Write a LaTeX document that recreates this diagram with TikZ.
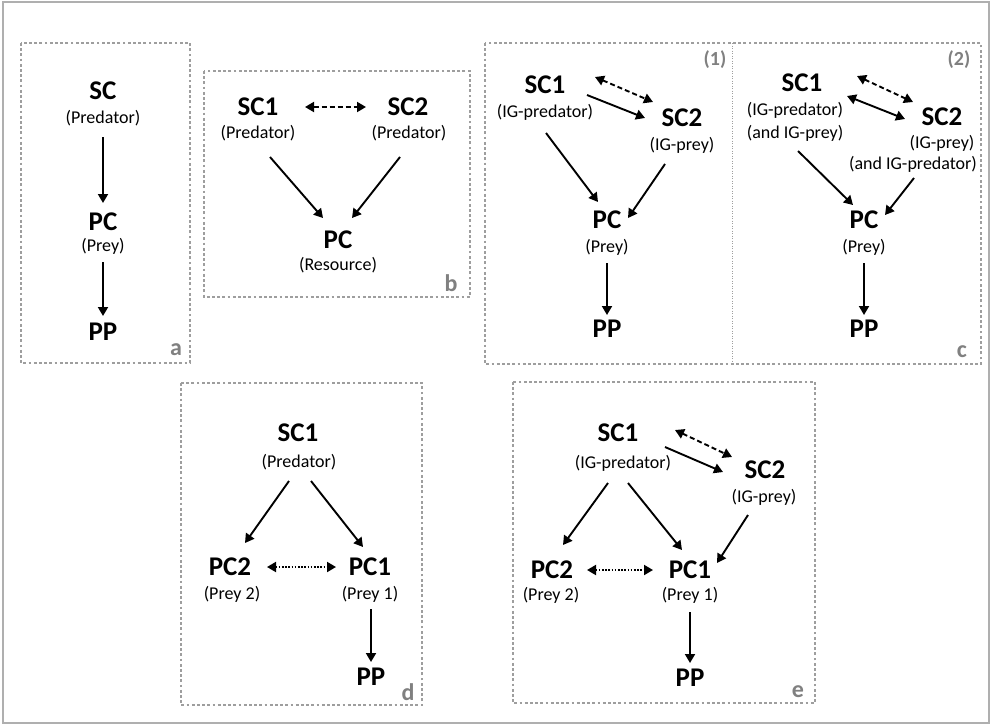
\documentclass[tikz,border=0pt]{standalone}
\usepackage{fontspec}
\setmainfont{Carlito}
\usetikzlibrary{arrows.meta}
\definecolor{boxgray}{RGB}{158,158,158}
\definecolor{taggray}{RGB}{128,128,128}
\definecolor{outergray}{RGB}{175,175,175}
\begin{document}
\begin{tikzpicture}[x=1pt,y=-1pt,
  big/.style={font=\fontsize{27}{29}\selectfont\bfseries, inner sep=0pt},
  sub/.style={font=\fontsize{18}{20}\selectfont, inner sep=0pt},
  tag/.style={font=\fontsize{24}{25}\selectfont\bfseries, text=taggray, inner sep=0pt},
  numtag/.style={font=\fontsize{20}{22}\selectfont\bfseries, text=taggray, inner sep=0pt},
  panel/.style={draw=boxgray, line width=2.8pt, dash pattern=on 2.8pt off 2.4pt},
  arr/.style={line width=1.9pt, -{Triangle[length=9pt,width=10pt]}},
  dbl/.style={line width=1.9pt, {Triangle[length=9pt,width=10pt]}-{Triangle[length=9pt,width=10pt]}},
  dashdbl/.style={dbl, dash pattern=on 5pt off 3pt},
  dotdbl/.style={dbl, dash pattern=on 1.6pt off 1.6pt}]
\useasboundingbox (0,0) rectangle (992,726);
\draw[outergray, line width=2.6pt] (3,2) rectangle (989,723);

% panels
\draw[panel] (21,43) rectangle (190,363);
\draw[panel] (204,71) rectangle (470,297);
\draw[panel] (485,43) rectangle (981,364);
\draw[boxgray, line width=1pt, dash pattern=on 1pt off 1.5pt] (732,43) -- (732,364);
\draw[panel] (181,383) rectangle (422,705);
\draw[panel] (513,382) rectangle (815,703);

% ---- a ----
\node[big] (a_sc) at (103,91) {SC};
\node[sub] (a_scs) at (103,118) {(Predator)};
\node[big] (a_pc) at (103,222) {PC};
\node[sub] (a_pcs) at (103,246) {(Prey)};
\node[big] (a_pp) at (103,332) {PP};
\node[tag] (a_tag) at (176,350) {a};
\draw[arr] ([shift={(0,19)}]a_scs.center) -- ([shift={(0,-19)}]a_pc.center);
\draw[arr] ([shift={(0,16)}]a_pcs.center) -- ([shift={(0,-16)}]a_pp.center);

% ---- b ----
\node[big] (b_s1) at (258,107) {SC1};
\node[sub] (b_s1s) at (258,133) {(Predator)};
\node[big] (b_s2) at (408,107) {SC2};
\node[sub] (b_s2s) at (409,133) {(Predator)};
\node[big] (b_pc) at (338,240) {PC};
\node[sub] (b_pcs) at (338,265) {(Resource)};
\node[tag] (b_tag) at (451,283) {b};
\draw[dashdbl] ([shift={(47,0)}]b_s1.center) -- ([shift={(-42,0)}]b_s2.center);
\draw[arr] ([shift={(12,24)}]b_s1s.center) -- ([shift={(-15,-22)}]b_pc.center);
\draw[arr] ([shift={(-9,24)}]b_s2s.center) -- ([shift={(14,-22)}]b_pc.center);

% ---- c (1) ----
\node[numtag] (c1_tag) at (715,60) {(1)};
\node[big] (c1_s1) at (545,85) {SC1};
\node[sub] (c1_s1s) at (545,112) {(IG-predator)};
\node[big] (c1_s2) at (682,118) {SC2};
\node[sub] (c1_s2s) at (682,145) {(IG-prey)};
\node[big] (c1_pc) at (607,220) {PC};
\node[sub] (c1_pcs) at (607,247) {(Prey)};
\node[big] (c1_pp) at (607,329) {PP};
\draw[dashdbl] ([shift={(50,-8)}]c1_s1.center) -- ([shift={(-29,-16)}]c1_s2.center);
\draw[arr] ([shift={(42,10)}]c1_s1.center) -- ([shift={(-37,0)}]c1_s2.center);
\draw[arr] ([shift={(1,21)}]c1_s1s.center) -- ([shift={(-9,-18)}]c1_pc.center);
\draw[arr] ([shift={(-17,19)}]c1_s2s.center) -- ([shift={(21,-2)}]c1_pc.center);
\draw[arr] ([shift={(0,16)}]c1_pcs.center) -- ([shift={(0,-14)}]c1_pp.center);

% ---- c (2) ----
\node[numtag] (c2_tag) at (959,60) {(2)};
\node[big] (c2_s1) at (802,83) {SC1};
\node[sub] (c2_s1s) at (795,110) {(IG-predator)};
\node[sub] (c2_s1t) at (795,133) {(and IG-prey)};
\node[big] (c2_s2) at (942,117) {SC2};
\node[sub] (c2_s2s) at (942,143) {(IG-prey)};
\node[sub] (c2_s2t) at (913,164) {(and IG-predator)};
\node[big] (c2_pc) at (864,220) {PC};
\node[sub] (c2_pcs) at (864,247) {(Prey)};
\node[big] (c2_pp) at (864,329) {PP};
\node[tag] (c_tag) at (962,352) {c};
\draw[dashdbl] ([shift={(55,-7)}]c2_s1.center) -- ([shift={(-29,-15)}]c2_s2.center);
\draw[dbl] ([shift={(45,13)}]c2_s1.center) -- ([shift={(-37,2)}]c2_s2.center);
\draw[arr] ([shift={(3,18)}]c2_s1t.center) -- ([shift={(-11,-15)}]c2_pc.center);
\draw[arr] ([shift={(1,14)}]c2_s2t.center) -- ([shift={(21,-5)}]c2_pc.center);
\draw[arr] ([shift={(0,16)}]c2_pcs.center) -- ([shift={(0,-14)}]c2_pp.center);

% ---- d ----
\node[big] (d_s1) at (298,433) {SC1};
\node[sub] (d_s1s) at (299,462) {(Predator)};
\node[big] (d_pc2) at (230,567) {PC2};
\node[sub] (d_pc2s) at (232,594) {(Prey 2)};
\node[big] (d_pc1) at (370,567) {PC1};
\node[sub] (d_pc1s) at (370,594) {(Prey 1)};
\node[big] (d_pp) at (371,677) {PP};
\node[tag] (d_tag) at (408,692) {d};
\draw[arr] ([shift={(-10,19)}]d_s1s.center) -- ([shift={(15,-24)}]d_pc2.center);
\draw[arr] ([shift={(12,19)}]d_s1s.center) -- ([shift={(-7,-20)}]d_pc1.center);
\draw[dotdbl] ([shift={(37,0)}]d_pc2.center) -- ([shift={(-34,0)}]d_pc1.center);
\draw[arr] ([shift={(1,15)}]d_pc1s.center) -- ([shift={(0,-15)}]d_pp.center);

% ---- e ----
\node[big] (e_s1) at (618,433) {SC1};
\node[sub] (e_s1s) at (623,463) {(IG-predator)};
\node[big] (e_s2) at (765,470) {SC2};
\node[sub] (e_s2s) at (764,497) {(IG-prey)};
\node[big] (e_pc2) at (552,570) {PC2};
\node[sub] (e_pc2s) at (551,595) {(Prey 2)};
\node[big] (e_pc1) at (690,570) {PC1};
\node[sub] (e_pc1s) at (690,595) {(Prey 1)};
\node[big] (e_pp) at (690,678) {PP};
\node[tag] (e_tag) at (798,692) {e};
\draw[dashdbl] ([shift={(57,-3)}]e_s1.center) -- ([shift={(-33,-13)}]e_s2.center);
\draw[arr] ([shift={(47,14)}]e_s1.center) -- ([shift={(-42,2)}]e_s2.center);
\draw[arr] ([shift={(-15,20)}]e_s1s.center) -- ([shift={(11,-25)}]e_pc2.center);
\draw[arr] ([shift={(5,20)}]e_s1s.center) -- ([shift={(-8,-20)}]e_pc1.center);
\draw[arr] ([shift={(-16,18)}]e_s2s.center) -- ([shift={(27,-7)}]e_pc1.center);
\draw[dotdbl] ([shift={(35,0)}]e_pc2.center) -- ([shift={(-37,0)}]e_pc1.center);
\draw[arr] ([shift={(0,17)}]e_pc1s.center) -- ([shift={(0,-15)}]e_pp.center);
\end{tikzpicture}
\end{document}
